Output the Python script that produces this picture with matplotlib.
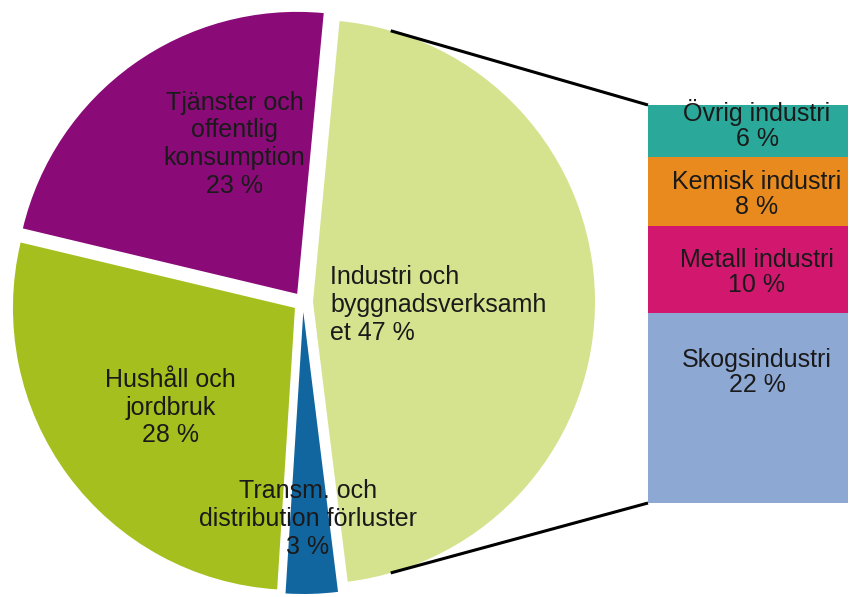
import numpy as np
import matplotlib.pyplot as plt

plt.rcParams['font.family'] = ['Liberation Sans', 'DejaVu Sans']

# Data
pie_labels = ['Industri och\nbyggnadsverksamh\net', 'Transm. och\ndistribution förluster',
              'Hushåll och\njordbruk', 'Tjänster och\noffentlig\nkonsumption']
pie_values = [47, 3, 28, 23]
pie_colors = ['#d5e38e', '#1266a0', '#a5bf1e', '#8a0a78']

bar_labels = ['Skogsindustri', 'Metall industri', 'Kemisk industri', 'Övrig industri']
bar_values = [22, 10, 8, 6]
bar_colors = ['#8ea8d4', '#d2186e', '#e88a1e', '#2aa89a']

W, H = 851, 597
fig = plt.figure(figsize=(W / 100, H / 100), dpi=100)
ax = fig.add_axes([0, 0, 1, 1])

# Pie (explode is given in data units here, since the radius is in pixels)
cx, cy, r = 303, 295, 282
expl = 10
start = 180 * pie_values[0] / 100
wedges, _ = ax.pie(pie_values, colors=pie_colors, center=(cx, cy), radius=r,
                   startangle=start, counterclock=False,
                   explode=[expl] * len(pie_values),
                   wedgeprops=dict(linewidth=0), frame=True)
ax.set_xlim(0, W)
ax.set_ylim(0, H)
ax.set_aspect('equal')
ax.axis('off')

fs = 18
ls = 1.2
# pie labels (angle / radius fraction from pie centre)
lab_pos = [(None, None), (-88.7, 0.77), (218.6, 0.60), (113.5, 0.61)]
for i, (lab, val) in enumerate(zip(pie_labels, pie_values)):
    if i == 0:
        ax.text(330, cy - 3, f'{lab} {val} %', ha='left', va='center',
                fontsize=fs, linespacing=ls, color='#1a1a1a')
    else:
        ang, rf = lab_pos[i]
        tx = cx + rf * r * np.cos(np.radians(ang))
        ty = cy + rf * r * np.sin(np.radians(ang))
        ax.text(tx, ty, f'{lab}\n{val} %', ha='center', va='center',
                fontsize=fs, linespacing=ls, color='#1a1a1a')

# Bar (stacked)
bx, bw, by, bh = 648, 200, 94, 398
scale = bh / sum(bar_values)
bottom = by
label_shift = [35, -3, -3, 6]
for lab, val, col, sh in zip(bar_labels, bar_values, bar_colors, label_shift):
    hgt = val * scale
    ax.bar(bx, hgt, width=bw, bottom=bottom, color=col, align='edge', linewidth=0)
    ax.text(bx + bw / 2 + 9, bottom + hgt / 2 + sh, f'{lab}\n{val} %',
            ha='center', va='center', fontsize=fs, linespacing=1.06, color='#1a1a1a')
    bottom += hgt

# Connection lines from the industry wedge to the bar
wc = wedges[0].center
for ang, y_end in [(74, by + bh), (-74, by)]:
    x0 = wc[0] + r * np.cos(np.radians(ang))
    y0 = wc[1] + r * np.sin(np.radians(ang))
    ax.plot([x0, bx], [y0, y_end], color='black', lw=2.2, solid_capstyle='butt')

fig.savefig('out.png', dpi=100)
